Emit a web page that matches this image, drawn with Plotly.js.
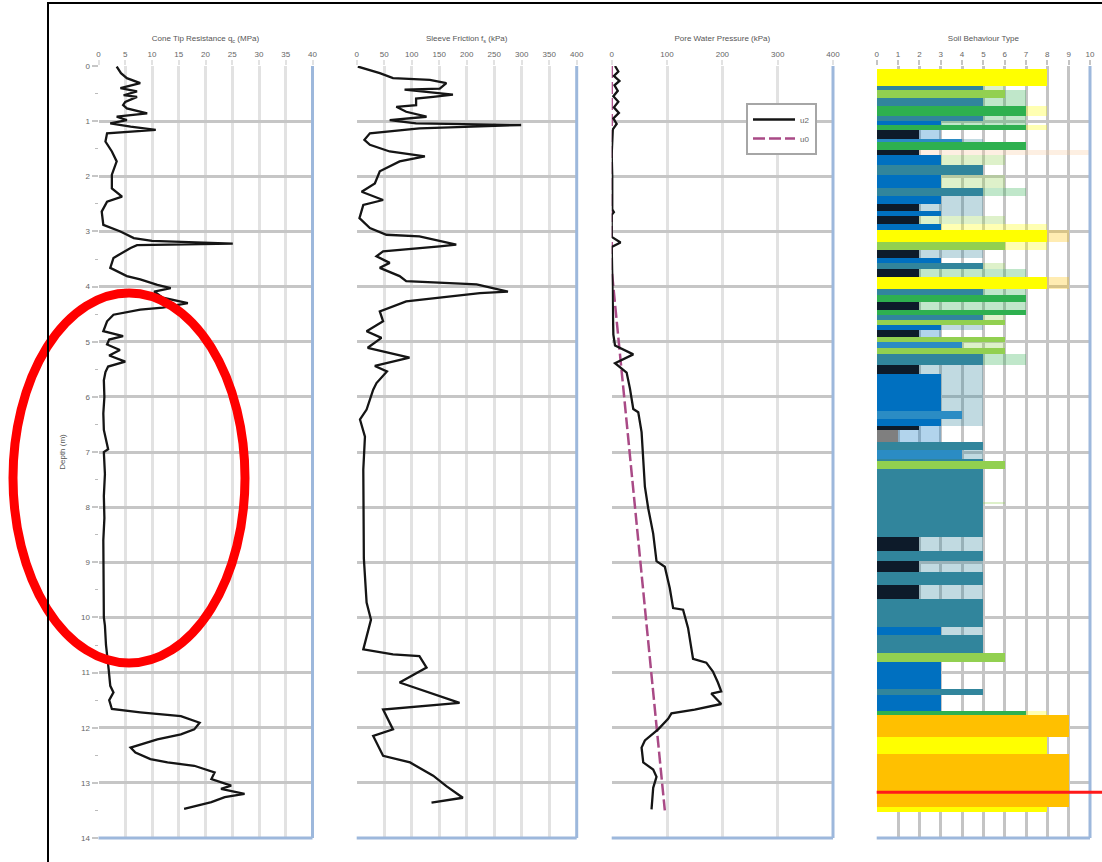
<!DOCTYPE html>
<html>
<head>
<meta charset="utf-8">
<script src="https://cdn.plot.ly/plotly-3.0.1.min.js"></script>
<style>html,body{margin:0;padding:0;background:#fff;}#chart{width:1102px;height:862px;}</style>
</head>
<body>
<div id="chart"></div>
<script>
// ---------------- DATA ----------------
const depthTicks = [0,1,2,3,4,5,6,7,8,9,10,11,12,13,14];

// Cone tip resistance qc (MPa)
const qcDepth = [0.01,0.13,0.22,0.31,0.40,0.46,0.53,0.56,0.65,0.71,0.77,0.86,0.92,0.98,1.04,1.10,1.16,1.22,1.37,1.55,1.73,1.97,2.22,2.37,2.46,2.64,2.88,3.00,3.12,3.17,3.22,3.25,3.30,3.48,3.66,3.81,3.87,3.97,4.03,4.09,4.20,4.30,4.38,4.42,4.51,4.63,4.81,4.90,4.96,5.05,5.15,5.25,5.36,5.45,5.55,5.70,6.00,6.30,6.60,6.95,7.00,7.40,7.80,8.20,8.60,9.00,9.50,10.00,10.15,10.50,10.94,11.24,11.36,11.50,11.66,11.72,11.79,11.91,12.03,12.12,12.21,12.36,12.45,12.57,12.63,12.69,12.81,12.93,13.05,13.11,13.20,13.26,13.35,13.47];
const qcValue = [3.4,4.2,5.3,7.8,4.1,7.2,4.7,7.2,5.0,4.6,5.3,9.1,3.4,5.3,2.2,6.0,10.7,1.6,1.3,2.5,3.4,2.5,2.5,4.4,1.6,0.6,0.9,4.1,6.6,10.0,25.1,7.2,6.0,2.8,2.2,5.3,7.8,11.0,13.5,10.4,12.0,16.7,12.0,7.8,2.8,1.6,0.9,4.6,2.0,1.6,4.0,2.0,5.0,1.8,1.3,1.0,1.1,0.9,1.0,1.8,1.0,1.2,1.0,1.1,0.9,0.9,0.9,1.0,1.2,1.4,1.9,2.2,2.8,2.0,2.5,7.8,15.4,18.9,17.9,15.4,11.0,6.0,6.9,9.7,12.9,17.9,21.7,21.1,24.8,22.9,27.3,23.6,21.1,16.0];

// Sleeve friction fs (kPa)
const fsDepth = [0.01,0.13,0.22,0.25,0.31,0.41,0.43,0.52,0.56,0.59,0.71,0.74,0.83,0.92,0.98,1.04,1.07,1.13,1.22,1.34,1.43,1.55,1.64,1.73,1.91,2.13,2.28,2.43,2.52,2.76,2.94,3.06,3.09,3.24,3.27,3.36,3.45,3.57,3.66,3.81,3.90,3.96,4.09,4.12,4.27,4.45,4.63,4.81,4.93,5.11,5.29,5.44,5.54,5.75,5.87,6.23,6.41,6.72,7.32,8.22,8.93,9.73,10.04,10.58,10.67,10.70,10.91,11.18,11.55,11.67,12.03,12.15,12.51,12.63,12.87,13.06,13.27,13.36];
const fsValue = [2,42,66,133,163,151,87,175,139,108,108,72,90,127,60,108,299,114,24,14,24,60,124,78,42,33,9,48,12,5,24,54,114,181,151,48,36,60,42,78,90,218,275,224,90,42,48,18,45,20,96,33,55,36,30,18,6,15,12,12,13,18,26,12,66,114,127,78,187,48,66,30,48,97,139,163,193,136];

// Pore water pressure u2 (kPa)
const u2Depth = [0.00,0.10,0.18,0.27,0.35,0.45,0.55,0.65,0.75,0.85,0.95,1.05,1.15,1.30,1.60,2.00,2.60,2.65,2.70,3.10,3.20,3.28,3.80,4.30,4.60,4.87,5.07,5.23,5.39,5.56,5.85,6.22,6.28,6.64,7.63,8.02,8.48,8.98,9.08,9.47,9.83,9.86,10.19,10.75,10.82,10.98,11.18,11.34,11.38,11.57,11.67,11.74,11.84,12.03,12.23,12.36,12.63,12.76,12.89,13.09,13.48];
const u2Value = [6,12,4,14,5,11,3,12,4,13,3,9,2,1,0,1,1,4,0,0,16,0,1,1,2,3,6,39,6,27,33,39,48,54,60,66,75,81,96,105,111,129,138,147,171,183,192,198,180,198,150,108,102,84,60,54,57,75,81,75,72];

// Hydrostatic pressure u0 (kPa)
const u0Depth = [0.0,3.7,13.5];
const u0Value = [0,0,96];

// Soil Behaviour Type: band boundaries (m), core zone and peak zone per band
const sbtDepth = [0.05,0.37,0.43,0.58,0.73,0.91,1.00,1.07,1.16,1.33,1.38,1.53,1.62,1.80,1.98,2.22,2.36,2.50,2.63,2.72,2.86,2.97,3.19,3.34,3.49,3.58,3.69,3.83,4.04,4.16,4.28,4.43,4.52,4.61,4.70,4.79,4.91,5.00,5.12,5.22,5.42,5.58,5.80,6.00,6.25,6.40,6.52,6.60,6.82,6.97,7.12,7.16,7.30,7.90,7.94,8.54,8.80,8.97,9.17,9.42,9.66,10.17,10.32,10.65,10.81,11.29,11.40,11.69,11.77,12.17,12.47,13.44,13.52];
const sbtCore = [8,5,6,5,7,5,3,7,2,4,7,2,3,5,3,5,3,2,3,2,3,8,6,2,3,5,2,8,5,7,2,7,5,6,3,2,6,4,6,5,2,3,3,3,4,3,2,1,5,4,5,6,5,5,5,2,5,2,5,2,5,3,5,6,3,5,3,7,9,8,9,8];
const sbtPeak = [8,6,7,7,8,7,7,8,3,5,7,10,6,5,6,7,5,5,5,6,8,9,8,5,3,6,7,9,7,7,7,7,6,6,5,3,6,6,6,7,5,5,5,5,5,5,3,3,5,5,5,6,5,6,5,5,5,5,5,5,5,5,5,6,3,5,3,8,9,8,9,8];
const sbtLimitDepth = 13.17;

// ---------------- STYLE / LAYOUT ----------------
const W = 1102, H = 862;
const zoneColors = {1:'#7f7f7f',2:'#0d1b2a',3:'#0070c0',4:'#2b8cc4',5:'#31859c',6:'#92d050',7:'#2eb04f',8:'#ffff00',9:'#ffc000',10:'#f8c9a0'};
const px = v => v / W;
const py = v => 1 - v / H;
const yDom = [py(838), py(66)];
const panels = [[98.5,312.5],[356.7,576.7],[611.7,833],[876.7,1090]];

const sbtCenter = [], sbtWidth = [];
for (let i = 0; i < sbtCore.length; i++) {
  sbtCenter.push((sbtDepth[i] + sbtDepth[i+1]) / 2);
  sbtWidth.push(sbtDepth[i+1] - sbtDepth[i]);
}

const lineStyle = {color:'#151515', width:2.3};
const traces = [
  {x: qcValue, y: qcDepth, xaxis:'x', yaxis:'y', type:'scatter', mode:'lines', line: lineStyle, showlegend:false},
  {x: fsValue, y: fsDepth, xaxis:'x2', yaxis:'y', type:'scatter', mode:'lines', line: lineStyle, showlegend:false},
  {x: u0Value, y: u0Depth, xaxis:'x3', yaxis:'y', type:'scatter', mode:'lines', name:'u0', line:{color:'#a94a86', width:2.5, dash:'12px,4px'}, showlegend:true, legendrank:2},
  {x: u2Value, y: u2Depth, xaxis:'x3', yaxis:'y', type:'scatter', mode:'lines', name:'u2', line:{color:'#151515', width:2.3}, showlegend:true, legendrank:1},
  {x: sbtPeak, y: sbtCenter, width: sbtWidth, orientation:'h', type:'bar', xaxis:'x4', yaxis:'y', base:0,
   marker:{color: sbtPeak.map(v => zoneColors[v]), opacity:0.3, line:{width:0}}, showlegend:false, hoverinfo:'skip'},
  {x: sbtCore, y: sbtCenter, width: sbtWidth, orientation:'h', type:'bar', xaxis:'x4', yaxis:'y', base:0,
   marker:{color: sbtCore.map(v => zoneColors[v]), opacity:1, line:{width:0}}, showlegend:false, hoverinfo:'skip'}
];

const tickFont = {family:'Liberation Sans, Arial, sans-serif', size:8, color:'#666'};
const titleFont = {family:'Liberation Sans, Arial, sans-serif', size:8, color:'#555'};
function xAxis(i, range, dtick, title, grid) {
  return {
    domain:[px(panels[i][0]), px(panels[i][1])], range: range, dtick: dtick, tick0:0,
    side:'top', anchor:'y', showgrid:true, gridcolor:grid, gridwidth:3, zeroline:false, showline:false,
    ticks:'outside', ticklen:5, tickwidth:2, tickcolor:grid, tickfont: tickFont,
    title:{text:title, font:titleFont, standoff:6}, fixedrange:true
  };
}

const shapes = [];
['x','x2','x3','x4'].forEach(a => {
  shapes.push({type:'line', xref:a+' domain', yref:'y domain', x0:1, x1:1, y0:0, y1:1, line:{color:'#9db8dc', width:3}});
  shapes.push({type:'line', xref:a+' domain', yref:'y domain', x0:0, x1:1, y0:0, y1:0, line:{color:'#9db8dc', width:3}});
});
shapes.push({type:'line', xref:'paper', yref:'y', x0:px(876.7), x1:1, y0:sbtLimitDepth, y1:sbtLimitDepth, line:{color:'#ff1a1a', width:3}});
shapes.push({type:'circle', xref:'paper', yref:'paper', x0:px(13), x1:px(245), y0:py(663), y1:py(293), line:{color:'#ff0000', width:9}});
shapes.push({type:'rect', xref:'paper', yref:'paper', x0:px(48), x1:px(1110), y0:py(870), y1:py(3), line:{color:'#000', width:2}});

const layout = {
  width: W, height: H,
  margin:{l:0, r:0, t:0, b:0, pad:0},
  paper_bgcolor:'#fff', plot_bgcolor:'#fff',
  font:{family:'Liberation Sans, Arial, sans-serif'},
  barmode:'overlay', bargap:0,
  showlegend:true,
  legend:{x:px(746), y:py(103), xanchor:'left', yanchor:'top', bgcolor:'#fff', bordercolor:'#a6a6a6', borderwidth:2,
          font:{size:8, color:'#666'}, traceorder:'normal', itemwidth:42, tracegroupgap:4},
  xaxis: xAxis(0, [0,40], 5, 'Cone Tip Resistance q<sub>c</sub> (MPa)', '#e2e2e2'),
  xaxis2: xAxis(1, [0,400], 50, 'Sleeve Friction f<sub>s</sub> (kPa)', '#e2e2e2'),
  xaxis3: xAxis(2, [0,400], 100, 'Pore Water Pressure (kPa)', '#e2e2e2'),
  xaxis4: xAxis(3, [0,10], 1, 'Soil Behaviour Type', '#c4c4c4'),
  yaxis: {
    domain: yDom, range:[14,0], tickvals: depthTicks, anchor:'x',
    showgrid:true, gridcolor:'#c6c6c6', gridwidth:3, zeroline:false, showline:false,
    ticks:'outside', ticklen:6, tickwidth:2, tickcolor:'#c6c6c6', tickfont: tickFont,
    minor:{ticks:'outside', ticklen:3, tickwidth:1, tickcolor:'#bbb', dtick:0.5, tick0:0, showgrid:false},
    title:{text:'Depth (m)', font:titleFont, standoff:14}, fixedrange:true
  },
  shapes: shapes
};

Plotly.newPlot('chart', traces, layout, {displayModeBar:false, staticPlot:true});
</script>
</body>
</html>
